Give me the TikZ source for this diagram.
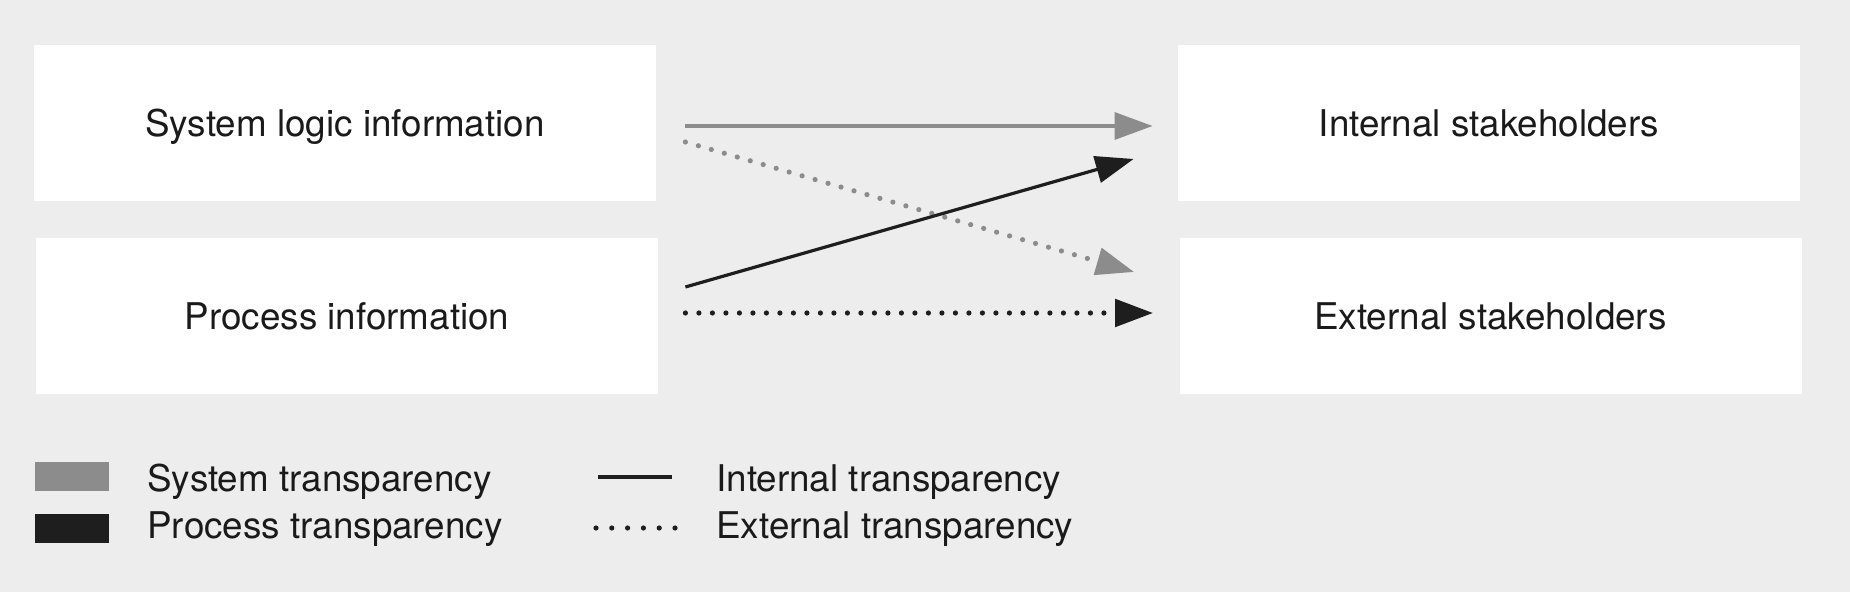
\documentclass[tikz,border=0pt]{standalone}
\usepackage{fontspec}
\setmainfont{TeX Gyre Heros}
\usetikzlibrary{arrows.meta,calc}
\definecolor{bg}{HTML}{EDEDED}
\definecolor{sysgray}{HTML}{8C8C8C}
\definecolor{procblack}{HTML}{1E1E1E}
\definecolor{txt}{HTML}{1A1A1A}
\begin{document}
\begin{tikzpicture}[x=0.5pt,y=-0.5pt,
  box/.style={rectangle,fill=white,inner sep=0pt,minimum width=311pt,minimum height=78pt,
    font=\fontsize{18.4}{21}\selectfont,text=txt,text height=13.2pt,text depth=0pt},
  tipend/.style={-{Triangle[length=19pt,width=13.5pt]}},
  solidline/.style={line width=1.6pt},
  dotline/.style={line width=2.6pt,line cap=round,dash pattern=on 0pt off 6.75pt},
  legtext/.style={anchor=base west,inner sep=0pt,font=\fontsize{18.4}{21}\selectfont,text=txt},
  swatch/.style={rectangle,inner sep=0pt,minimum width=37pt,minimum height=14.5pt}]
\fill[bg] (0,0) rectangle (1850,592);
\useasboundingbox (0,0) rectangle (1850,592);

% boxes
\node[box] (sys)  at (345,123)    {System logic information};
\node[box] (proc) at (347,316.5)  {Process information};
\node[box] (int)  at (1489,123)   {Internal stakeholders};
\node[box] (ext)  at (1490.5,316.5) {External stakeholders};

% connectors
\draw[sysgray,solidline,tipend] ($(sys.east)+(29,3)$) -- ($(int.west)+(-25,3)$);
\draw[sysgray,dotline,tipend] ($(sys.east)+(29,19)$) -- ($(ext.west)+(-45,-44.5)$);
\draw[procblack,solidline,tipend] ($(proc.east)+(27,-29.5)$) -- ($(int.west)+(-44,36)$);
\draw[procblack,dotline,tipend] ($(proc.east)+(27,-3.5)$) -- ($(ext.west)+(-26,-3.5)$);

% legend
\node[swatch,fill=sysgray] (sw1) at (72,476.5) {};
\node[swatch,fill=procblack] (sw2) at (72,528.5) {};
\node[legtext] (l1) at (147,491) {System transparency};
\node[legtext] (l2) at (147,538) {Process transparency};
\coordinate (ls1) at (598,477);
\coordinate (le1) at (672,477);
\coordinate (ls2) at (596,528);
\coordinate (le2) at (675,528);
\draw[procblack,line width=2pt] (ls1) -- (le1);
\draw[procblack,line width=2.6pt,line cap=round,dash pattern=on 0pt off 7.9pt] (ls2) -- (le2);
\node[legtext] (l3) at (716,491) {Internal transparency};
\node[legtext] (l4) at (716,538) {External transparency};
\end{tikzpicture}
\end{document}
